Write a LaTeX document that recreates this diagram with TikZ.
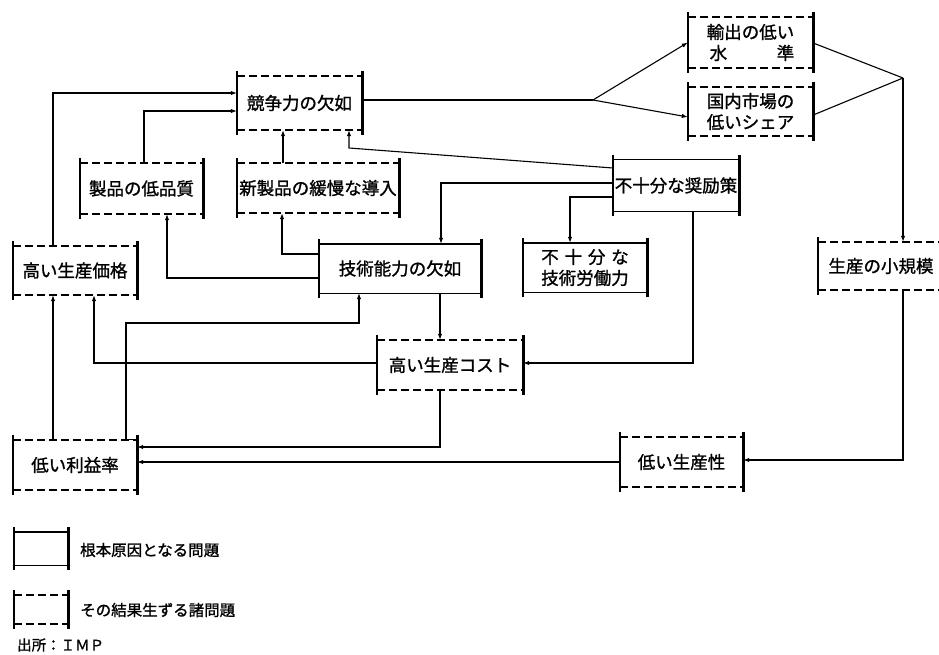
\documentclass[tikz,border=0pt]{standalone}
\usepackage{fontspec}
\setmainfont{Noto Sans CJK JP}
\newfontfamily\jpb[FakeBold=1.2]{Noto Sans CJK JP}
\usetikzlibrary{arrows.meta}
\tikzset{
  side/.style={line width=2.6pt},
  rimsolid/.style={line width=1.4pt},
  rimdash/.style={line width=1.7pt, dash pattern=on 8pt off 4pt},
  conn/.style={line width=1.1pt},
  arr/.style={conn, -{Latex[length=6pt,width=4.5pt]}},
  boxbase/.style={inner sep=0pt, align=center, font=\jpb\fontsize{17.5}{21}\selectfont},
  rootbox/.style={boxbase, append after command={
      ([yshift=5pt]\tikzlastnode.north west) edge[side] ([yshift=-5pt]\tikzlastnode.south west)
      ([yshift=5pt]\tikzlastnode.north east) edge[side] ([yshift=-5pt]\tikzlastnode.south east)
      (\tikzlastnode.north west) edge[rimsolid] (\tikzlastnode.north east)
      (\tikzlastnode.south west) edge[rimsolid] (\tikzlastnode.south east)}},
  effbox/.style={boxbase, append after command={
      ([yshift=5pt]\tikzlastnode.north west) edge[side] ([yshift=-5pt]\tikzlastnode.south west)
      ([yshift=5pt]\tikzlastnode.north east) edge[side] ([yshift=-5pt]\tikzlastnode.south east)
      (\tikzlastnode.north west) edge[rimdash] (\tikzlastnode.north east)
      (\tikzlastnode.south west) edge[rimdash] (\tikzlastnode.south east)}},
  legtext/.style={anchor=west, inner sep=0pt, font=\jpb\fontsize{15.5}{18}\selectfont}
}
\begin{document}
\begin{tikzpicture}[x=1pt, y=-1pt]
\useasboundingbox (0,0) rectangle (939,655);
\clip (0,0) rectangle (939,655);
\fill[white] (0,0) rectangle (939,655);

% boxes
\node[effbox, minimum width=125pt, minimum height=51pt] (exp) at (750.5,42.5) {輸出の低い\\\makebox[5em]{\,水\hfill 準}};
\node[effbox, minimum width=125pt, minimum height=49pt] (dom) at (750.5,111.5) {国内市場の\\低いシェア};
\node[effbox, minimum width=125pt, minimum height=54pt] (comp) at (299.5,103) {競争力の欠如};
\node[effbox, minimum width=123pt, minimum height=51pt] (qual) at (141.5,188.5) {製品の低品質};
\node[effbox, minimum width=162pt, minimum height=50pt] (newp) at (318,188) {新製品の緩慢な導入};
\node[effbox, minimum width=124pt, minimum height=49pt] (price) at (75,270.5) {高い生産価格};
\node[rootbox, minimum width=162pt, minimum height=49pt] (tech) at (400,268.5) {技術能力の欠如};
\node[rootbox, minimum width=126pt, minimum height=51pt] (inc) at (676,185.5) {不十分な奨励策};
\node[rootbox, minimum width=124pt, minimum height=49pt] (labor) at (585,267.5) {\makebox[5em]{不\hfill 十\hfill 分\hfill な}\\技術労働力};
\node[effbox, minimum width=126pt, minimum height=48pt] (scale) at (881,266) {生産の小規模};
\node[effbox, minimum width=146pt, minimum height=50pt] (cost) at (450,365) {高い生産コスト};
\node[effbox, minimum width=124pt, minimum height=50pt] (profit) at (75,465) {低い利益率};
\node[effbox, minimum width=123pt, minimum height=50pt] (prod) at (681.5,462) {低い生産性};

% helper coordinates
\coordinate (J1) at (593,100);
\coordinate (J2) at (903,78);
\coordinate (e1) at (440,447);
\coordinate (g1) at (126,323);
\coordinate (g2) at (359,323);
\coordinate (h1) at (53,93);
\coordinate (i1) at (94,363);
\coordinate (k1) at (144,111);
\coordinate (l1) at (283,150);
\coordinate (m1) at (167,278);
\coordinate (n1) at (282,254);
\coordinate (o0) at (600,168);
\coordinate (o1) at (349,148);
\coordinate (p1) at (441,183);
\coordinate (q1) at (570,197);
\coordinate (r1) at (693,363);
\coordinate (v1) at (903,460);
\coordinate (d1) at (600,117);

% connectors
\draw[conn] ([yshift=3pt]comp.east) -- (J1);
\draw[arr] (J1) -- (exp.west);
\draw[arr] (J1) -- (dom.west |- d1);
\draw[conn] ([yshift=-0.5pt]exp.east) -- (J2);
\draw[conn] ([yshift=-3.5pt]dom.east) -- (J2);
\draw[arr] (J2) -- (J2 |- scale.north);
\draw[arr] (J2 |- scale.south) -- (v1) -- (v1 -| prod.east);
\draw[arr] (prod.west) -- (prod.west -| profit.east);
\draw[arr] (cost.south -| e1) -- (e1) -- (e1 -| profit.east);
\draw[arr] (tech.south -| e1) -- (cost.north -| e1);
\draw[arr] (profit.north east) -| (g1) -- (g2) -- (g2 |- tech.south);
\draw[arr] (profit.north -| h1) -- (price.south -| h1);
\draw[arr] (cost.west |- i1) -- (i1) -- (i1 |- price.south);
\draw[arr] (price.north -| h1) -- (h1) -- (h1 -| comp.west);
\draw[arr] (qual.north -| k1) -- (k1) -- (k1 -| comp.west);
\draw[arr] (newp.north -| l1) -- (comp.south -| l1);
\draw[arr] (tech.west |- m1) -- (m1) -- (m1 |- qual.south);
\draw[arr] (tech.west |- n1) -- (n1) -- (n1 |- newp.south);
\draw[arr] (inc.west |- o0) -- (o1) -- (o1 |- comp.south);
\draw[arr] (inc.west |- p1) -- (p1) -- (p1 |- tech.north);
\draw[arr] (inc.west |- q1) -- (q1) -- (q1 |- labor.north);
\draw[arr] (inc.south -| r1) -- (r1) -- (r1 -| cost.east);

% legend
\node[rootbox, minimum width=54pt, minimum height=33pt] (lg1) at (41,548.5) {};
\node[effbox, minimum width=54pt, minimum height=29pt] (lg2) at (41,609.5) {};
\node[legtext] (lt1) at (80,550) {根本原因となる問題};
\node[legtext] (lt2) at (80,610) {その結果生ずる諸問題};
\node[legtext, font=\jpb\fontsize{14.5}{17}\selectfont] (src) at (17,645) {出所：ＩＭＰ};
\end{tikzpicture}
\end{document}
